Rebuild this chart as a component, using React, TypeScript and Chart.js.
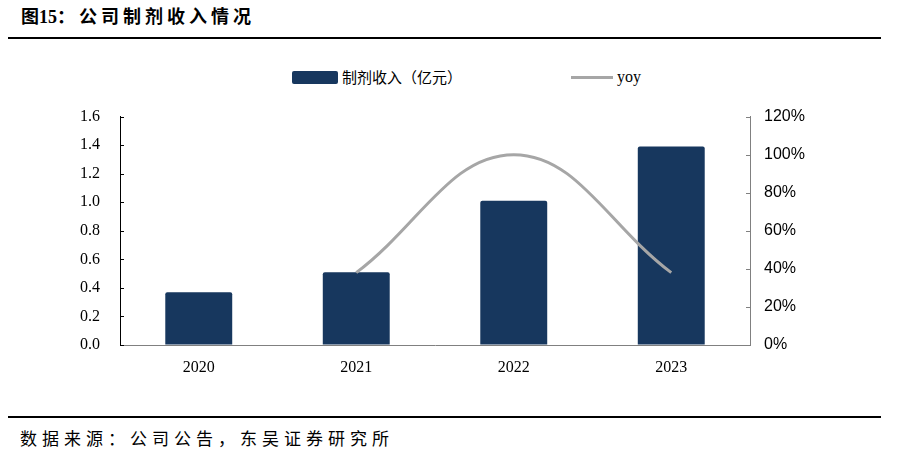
import React, { useEffect, useRef } from "react";
import { Chart, registerables } from "chart.js";

Chart.register(...registerables);

const categories = ["2020", "2021", "2022", "2023"];
const revenue = [0.37, 0.51, 1.01, 1.39];
const yoy = [null, 38, 100, 38];
const leftTicks = [0, 0.2, 0.4, 0.6, 0.8, 1.0, 1.2, 1.4, 1.6];
const rightTicks = [0, 20, 40, 60, 80, 100, 120];

const BAR_COLOR = "#17375E";
const LINE_COLOR = "#A6A6A6";

const innerTicks = {
  id: "innerTicks",
  afterDraw(chart: any) {
    const ctx = chart.ctx;
    const yl = chart.scales.y;
    const yr = chart.scales.y1;
    ctx.save();
    ctx.lineWidth = 1;
    ctx.strokeStyle = "#000";
    for (const v of leftTicks) {
      const p = Math.round(yl.getPixelForValue(v)) + 0.5;
      ctx.beginPath();
      ctx.moveTo(yl.right, p);
      ctx.lineTo(yl.right + 4, p);
      ctx.stroke();
    }
    ctx.strokeStyle = "#808080";
    for (const v of rightTicks) {
      const p = Math.round(yr.getPixelForValue(v)) + 0.5;
      ctx.beginPath();
      ctx.moveTo(yr.left - 4, p);
      ctx.lineTo(yr.left, p);
      ctx.stroke();
    }
    ctx.restore();
  },
};

export default function App() {
  const ref = useRef<HTMLCanvasElement>(null);
  useEffect(() => {
    if (!ref.current) return;
    const chart = new Chart(ref.current, {
      type: "bar",
      data: {
        labels: categories,
        datasets: [
          {
            type: "line",
            label: "yoy",
            data: yoy as any,
            yAxisID: "y1",
            borderColor: LINE_COLOR,
            backgroundColor: LINE_COLOR,
            borderWidth: 3,
            pointRadius: 0,
            tension: 0.4,
            order: 0,
          } as any,
          {
            type: "bar",
            label: "制剂收入（亿元）",
            data: revenue,
            yAxisID: "y",
            backgroundColor: BAR_COLOR,
            borderRadius: 2,
            borderSkipped: "bottom",
            barPercentage: 0.425,
            categoryPercentage: 1,
            order: 1,
          } as any,
        ],
      },
      options: {
        animation: false,
        responsive: false,
        maintainAspectRatio: false,
        layout: { padding: { top: 15, left: 0, right: 0, bottom: 0 } },
        plugins: { legend: { display: false }, tooltip: { enabled: false } },
        scales: {
          x: {
            grid: { display: false, drawTicks: false },
            border: { display: true, color: "#808080", width: 1 },
            ticks: {
              padding: 13,
              color: "#000",
              font: { family: "'Liberation Serif', 'Times New Roman', serif", size: 16 },
            },
            afterFit(s: any) {
              s.height = 36;
            },
          },
          y: {
            position: "left",
            min: 0,
            max: 1.6,
            afterBuildTicks(s: any) {
              s.ticks = leftTicks.map((v) => ({ value: v }));
            },
            grid: { display: true, drawOnChartArea: false, drawTicks: false, color: "transparent" },
            border: { display: true, color: "#000", width: 1 },
            ticks: {
              padding: 20,
              color: "#000",
              font: { family: "'Liberation Serif', 'Times New Roman', serif", size: 16 },
              callback: (v: any) => Number(v).toFixed(1),
            },
            afterFit(s: any) {
              s.width = 120;
            },
          },
          y1: {
            position: "right",
            min: 0,
            max: 120,
            afterBuildTicks(s: any) {
              s.ticks = rightTicks.map((v) => ({ value: v }));
            },
            grid: { display: true, drawOnChartArea: false, drawTicks: false, color: "transparent" },
            border: { display: true, color: "#808080", width: 1 },
            ticks: {
              padding: 14,
              color: "#000",
              font: { family: "'Liberation Sans', Arial, sans-serif", size: 16 },
              callback: (v: any) => v + "%",
            },
            afterFit(s: any) {
              s.width = 148;
            },
          },
        },
      },
      plugins: [innerTicks],
    });
    return () => chart.destroy();
  }, []);

  const cjk = "'Liberation Serif', 'Times New Roman', 'Noto Sans CJK SC', serif";
  return (
    <div style={{ position: "absolute", left: 0, top: 0, width: 898, height: 458, background: "#fff", overflow: "hidden" }}>
      <div
        style={{
          position: "absolute",
          left: 21,
          top: 5,
          fontFamily: cjk,
          fontWeight: "bold",
          fontSize: 18,
          color: "#000",
          lineHeight: "24px",
          whiteSpace: "nowrap",
        }}
      >
        <span style={{ letterSpacing: 0 }}>图15</span>
        <span style={{ letterSpacing: 4 }}>：公司制剂收入情况</span>
      </div>
      <div style={{ position: "absolute", left: 8, top: 37, width: 873, height: 2, background: "#000" }} />

      <div style={{ position: "absolute", left: 292, top: 71, width: 46, height: 13, background: BAR_COLOR, borderRadius: 2 }} />
      <div
        style={{
          position: "absolute",
          left: 342,
          top: 67,
          fontFamily: "'Noto Sans CJK SC', sans-serif",
          fontSize: 15,
          letterSpacing: 0,
          lineHeight: "20px",
          color: "#000",
          whiteSpace: "nowrap",
        }}
      >
        制剂收入（亿元）
      </div>
      <div style={{ position: "absolute", left: 571, top: 76, width: 42, height: 3, background: LINE_COLOR }} />
      <div
        style={{
          position: "absolute",
          left: 617,
          top: 67,
          fontFamily: "'Liberation Serif', serif",
          fontSize: 16,
          lineHeight: "20px",
          color: "#000",
        }}
      >
        yoy
      </div>

      <canvas ref={ref} width={898} height={294} style={{ position: "absolute", left: 0, top: 87, width: 898, height: 294 }} />

      <div style={{ position: "absolute", left: 8, top: 416, width: 873, height: 2, background: "#000" }} />
      <div
        style={{
          position: "absolute",
          left: 20,
          top: 426,
          fontFamily: "'Noto Sans CJK SC', sans-serif",
          fontSize: 17,
          letterSpacing: 5,
          lineHeight: "24px",
          color: "#000",
          whiteSpace: "nowrap",
        }}
      >
        数据来源：公司公告，东吴证券研究所
      </div>
    </div>
  );
}
